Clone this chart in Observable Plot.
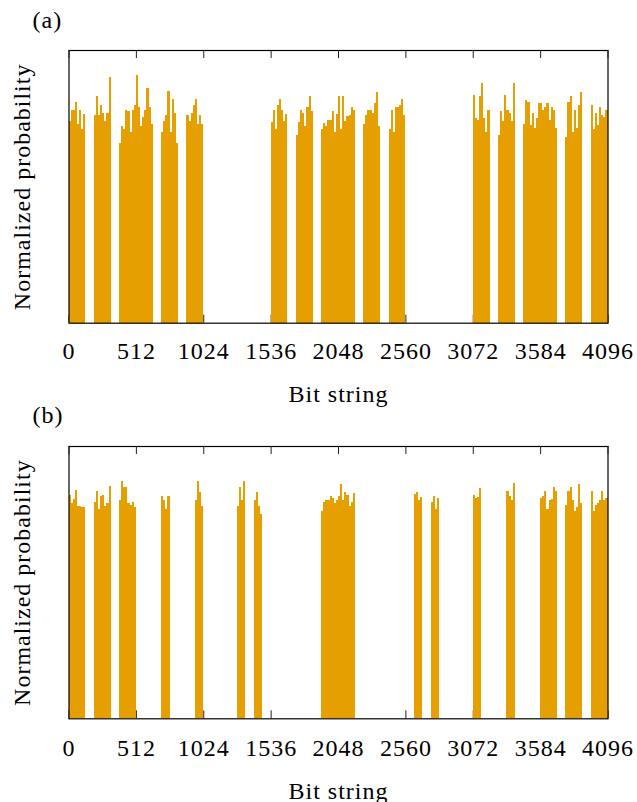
<!DOCTYPE html>
<html>
<head>
<meta charset="utf-8">
<script src="https://cdn.jsdelivr.net/npm/d3@7"></script>
<script src="https://cdn.jsdelivr.net/npm/@observablehq/plot@0.6"></script>
<style>
  body { margin: 0; background: #fff; }
  #chart { width: 637px; }
  #chart svg { display: block; overflow: visible; }
</style>
</head>
<body>
<div id="chart"></div>
<script>
// Bit-string axis ticks and labels
const xTicks = [0, 512, 1024, 1536, 2048, 2560, 3072, 3584, 4096];
const xLabel = "Bit string";
const yLabel = "Normalized probability";

// Each bar covers a bin of 16 consecutive bit strings (peak probability in the bin)
const binWidth = 16;

// Panel (a): first bit string of each populated block, and its binned heights
const startsA = [0, 192, 384, 704, 896, 1536, 1728, 1920, 2240, 2432, 3072, 3264, 3456, 3776, 3968];
const heightsA = [
  [0.74, 0.78, 0.78, 0.81, 0.73, 0.78, 0.71, 0.765],
  [0.76, 0.83, 0.76, 0.80, 0.77, 0.74, 0.77, 0.90],
  [0.66, 0.72, 0.71, 0.78, 0.775, 0.70, 0.78, 0.80, 0.91, 0.79, 0.72, 0.755, 0.78, 0.86, 0.79, 0.73],
  [0.70, 0.74, 0.76, 0.85, 0.70, 0.82, 0.77, 0.66],
  [0.76, 0.74, 0.77, 0.80, 0.82, 0.73, 0.76, 0.73],
  [0.735, 0.78, 0.71, 0.80, 0.82, 0.78, 0.74, 0.765],
  [0.69, 0.735, 0.78, 0.77, 0.72, 0.79, 0.83, 0.775],
  [0.71, 0.733, 0.72, 0.744, 0.744, 0.777, 0.70, 0.766, 0.83, 0.71, 0.83, 0.74, 0.758, 0.76, 0.79, 0.78],
  [0.73, 0.76, 0.78, 0.78, 0.77, 0.805, 0.845, 0.72],
  [0.71, 0.78, 0.70, 0.79, 0.79, 0.80, 0.82, 0.76],
  [0.835, 0.75, 0.745, 0.83, 0.88, 0.75, 0.70, 0.78],
  [0.69, 0.777, 0.74, 0.835, 0.78, 0.77, 0.74, 0.878],
  [0.73, 0.817, 0.81, 0.725, 0.77, 0.713, 0.75, 0.805, 0.805, 0.78, 0.79, 0.805, 0.745, 0.79, 0.78, 0.715],
  [0.68, 0.81, 0.83, 0.70, 0.78, 0.713, 0.80, 0.845],
  [0.80, 0.71, 0.77, 0.725, 0.79, 0.76, 0.755, 0.78]
];

// Panel (b)
const startsB = [0, 192, 384, 704, 960, 1280, 1408, 1920, 2624, 2752, 3072, 3328, 3584, 3776, 3968];
const heightsB = [
  [0.82, 0.79, 0.805, 0.84, 0.78, 0.78, 0.775, 0.775],
  [0.795, 0.835, 0.77, 0.815, 0.82, 0.78, 0.79, 0.853],
  [0.80, 0.87, 0.85, 0.85, 0.79, 0.785, 0.796, 0.775],
  [0.817, 0.80, 0.77, 0.817],
  [0.80, 0.87, 0.83, 0.78],
  [0.78, 0.85, 0.80, 0.87],
  [0.80, 0.83, 0.78, 0.75],
  [0.76, 0.795, 0.80, 0.80, 0.817, 0.81, 0.79, 0.80, 0.817, 0.86, 0.80, 0.83, 0.82, 0.78, 0.796, 0.826],
  [0.825, 0.83, 0.80, 0.814],
  [0.796, 0.815, 0.77, 0.81],
  [0.82, 0.81, 0.814, 0.847],
  [0.835, 0.817, 0.80, 0.865],
  [0.808, 0.817, 0.835, 0.77, 0.80, 0.805, 0.85, 0.835],
  [0.784, 0.833, 0.85, 0.80, 0.76, 0.775, 0.86, 0.79],
  [0.835, 0.76, 0.785, 0.79, 0.80, 0.833, 0.80, 0.81]
];

const barColor = "#E69F00";
const fontFamily = "'Liberation Serif', 'Times New Roman', serif";

function binRows(starts, heights) {
  const rows = [];
  starts.forEach((s, c) => {
    heights[c].forEach((p, i) => {
      rows.push({x1: s + i * binWidth, x2: s + (i + 1) * binWidth, p});
    });
  });
  return rows;
}

function panel({tag, starts, heights, height, marginTop, marginBottom, tagDy, tickPad, labelDy}) {
  const rows = binRows(starts, heights);
  const frameH = height - marginTop - marginBottom;
  const tickLen = 8;
  return Plot.plot({
    width: 637,
    height,
    marginTop,
    marginBottom,
    marginLeft: 68.5,
    marginRight: 29.5,
    style: {fontFamily, fontSize: "24px", letterSpacing: "1px", color: "#000", background: "transparent", overflow: "visible"},
    x: {domain: [0, 4096]},
    y: {domain: [0, 1], axis: null},
    marks: [
      // inward ticks along the bottom edge (under the bars)
      Plot.tickX(xTicks, {x: d => d, insetTop: frameH - tickLen, stroke: "#222", strokeWidth: 1}),
      Plot.rectY(rows, {x1: "x1", x2: "x2", y: "p", fill: barColor, inset: 0, shapeRendering: "crispEdges"}),
      Plot.frame({stroke: "#000", strokeWidth: 1.2}),
      // inward ticks along the top edge
      Plot.tickX(xTicks, {x: d => d, insetBottom: frameH - tickLen, stroke: "#222", strokeWidth: 1}),
      Plot.axisX(xTicks, {tickSize: 0, tickPadding: tickPad, fontSize: 24, label: null, tickFormat: d => String(d)}),
      Plot.text([xLabel], {frameAnchor: "bottom", dy: labelDy, lineAnchor: "top", textAnchor: "middle", text: d => d, fontSize: 24}),
      Plot.text([yLabel], {frameAnchor: "left", rotate: -90, dx: -56, lineAnchor: "top", textAnchor: "middle", text: d => d, fontSize: 24}),
      Plot.text([tag], {frameAnchor: "top-left", dx: -36.5, dy: tagDy, textAnchor: "start", lineAnchor: "top", text: d => d, fontSize: 24})
    ]
  });
}

const chart = document.getElementById("chart");
chart.append(panel({tag: "(a)", starts: startsA, heights: heightsA, height: 400, marginTop: 50, marginBottom: 77.3, tagDy: -39.6, tickPad: 18.6, labelDy: 62}));
chart.append(panel({tag: "(b)", starts: startsB, heights: heightsB, height: 402, marginTop: 46, marginBottom: 83.7, tagDy: -40.6, tickPad: 19.7, labelDy: 62.7}));
</script>
</body>
</html>
